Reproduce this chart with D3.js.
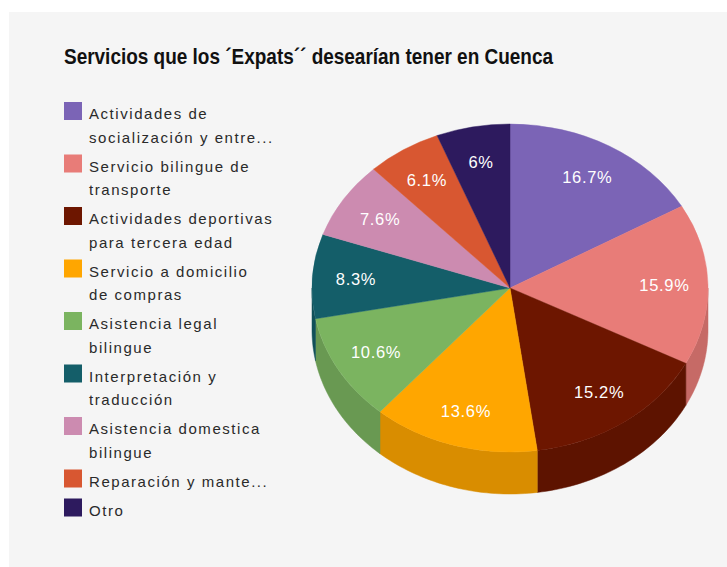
<!DOCTYPE html>
<html lang="es">
<head>
    <meta charset="UTF-8">
    <script src="https://d3js.org/d3.v7.min.js"></script>
    <style>
        body { margin: 0; background: #fff; }
        text { font-family: "Liberation Sans", Arial, sans-serif; }
    </style>
    <title>Servicios Expats Cuenca</title>
</head>
<body>
    <script>
        // Data
        const categories = [
            "Actividades de socialización y entretenimiento",
            "Servicio bilingue de transporte",
            "Actividades deportivas para tercera edad",
            "Servicio a domicilio de compras",
            "Asistencia legal bilingue",
            "Interpretación y traducción",
            "Asistencia domestica bilingue",
            "Reparación y mantenimiento",
            "Otro"
        ];
        const values = [16.7, 15.9, 15.2, 13.6, 10.6, 8.3, 7.6, 6.1, 6];
        const legendLines = [
            ["Actividades de", "socialización y entre..."],
            ["Servicio bilingue de", "transporte"],
            ["Actividades deportivas", "para tercera edad"],
            ["Servicio a domicilio", "de compras"],
            ["Asistencia legal", "bilingue"],
            ["Interpretación y", "traducción"],
            ["Asistencia domestica", "bilingue"],
            ["Reparación y mante..."],
            ["Otro"]
        ];
        const colors = ["#7b64b6", "#e87c78", "#6d1600", "#ffa600", "#7bb460",
                        "#145e69", "#cc8bb0", "#d85731", "#2d1a5e"];
        const title = "Servicios que los ´Expats´´ desearían tener en Cuenca";

        const width = 727;
        const height = 567;

        const svg = d3.select("body")
            .append("svg")
            .attr("width", width)
            .attr("height", height);

        svg.append("rect")
            .attr("x", 9).attr("y", 12)
            .attr("width", width - 9).attr("height", height - 12)
            .attr("fill", "#f5f5f5");

        svg.append("text")
            .attr("x", 64).attr("y", 64)
            .attr("font-size", 22)
            .attr("font-weight", "bold")
            .attr("fill", "#111")
            .attr("textLength", 489)
            .attr("lengthAdjust", "spacingAndGlyphs")
            .text(title);

        // pie geometry
        const cx = 510, cy = 288, rx = 198, ry = 164, depth = 42;

        const pie = d3.pie().sort(null).value(d => d);
        const arcs = pie(values);

        const darker = c => d3.color(c).darker(0.45);

        // side walls: only the front half (angles between PI/2 and 3PI/2)
        const sides = svg.append("g");
        arcs.forEach((a, i) => {
            const a0 = Math.max(a.startAngle, Math.PI / 2);
            const a1 = Math.min(a.endAngle, Math.PI * 1.5);
            if (a1 <= a0) return;
            const steps = d3.range(0, 41).map(k => a0 + (a1 - a0) * k / 40);
            const top = steps.map(t => [cx + rx * Math.sin(t), cy - ry * Math.cos(t)]);
            const bottom = steps.slice().reverse().map(t => [cx + rx * Math.sin(t), cy - ry * Math.cos(t) + depth]);
            sides.append("path")
                .attr("d", d3.line()(top.concat(bottom)) + "Z")
                .attr("fill", darker(colors[i]))
                .attr("stroke", darker(colors[i]))
                .attr("stroke-width", 0.5);
        });

        // top faces: circular arcs squashed into an ellipse
        const arc = d3.arc().innerRadius(0).outerRadius(rx);
        svg.append("g")
            .attr("transform", `translate(${cx},${cy}) scale(1,${ry / rx})`)
            .selectAll("path")
            .data(arcs)
            .join("path")
            .attr("d", arc)
            .attr("fill", (d, i) => colors[i])
            .attr("stroke", (d, i) => colors[i])
            .attr("stroke-width", 0.5);

        // percentage labels
        const f = 0.78;
        svg.append("g")
            .selectAll("text")
            .data(arcs)
            .join("text")
            .attr("x", d => cx + rx * f * Math.sin((d.startAngle + d.endAngle) / 2))
            .attr("y", d => cy - ry * f * Math.cos((d.startAngle + d.endAngle) / 2))
            .attr("dy", "0.36em")
            .attr("text-anchor", "middle")
            .attr("font-size", 16.5)
            .attr("letter-spacing", 0.7)
            .attr("fill", "#fff")
            .text(d => d3.format("~")(d.data) + "%");

        // legend
        const legend = svg.append("g");
        let yTop = 102;
        legendLines.forEach((lines, i) => {
            legend.append("rect")
                .attr("x", 64).attr("y", yTop)
                .attr("width", 18).attr("height", 18)
                .attr("fill", colors[i]);
            lines.forEach((line, j) => {
                legend.append("text")
                    .attr("x", 89)
                    .attr("y", yTop + 17 + j * 23.5)
                    .attr("font-size", 15)
                    .attr("letter-spacing", 1.55)
                    .attr("fill", "#2a2a2a")
                    .text(line);
            });
            yTop += lines.length * 23.5 + 5.5;
        });
    </script>
</body>
</html>
